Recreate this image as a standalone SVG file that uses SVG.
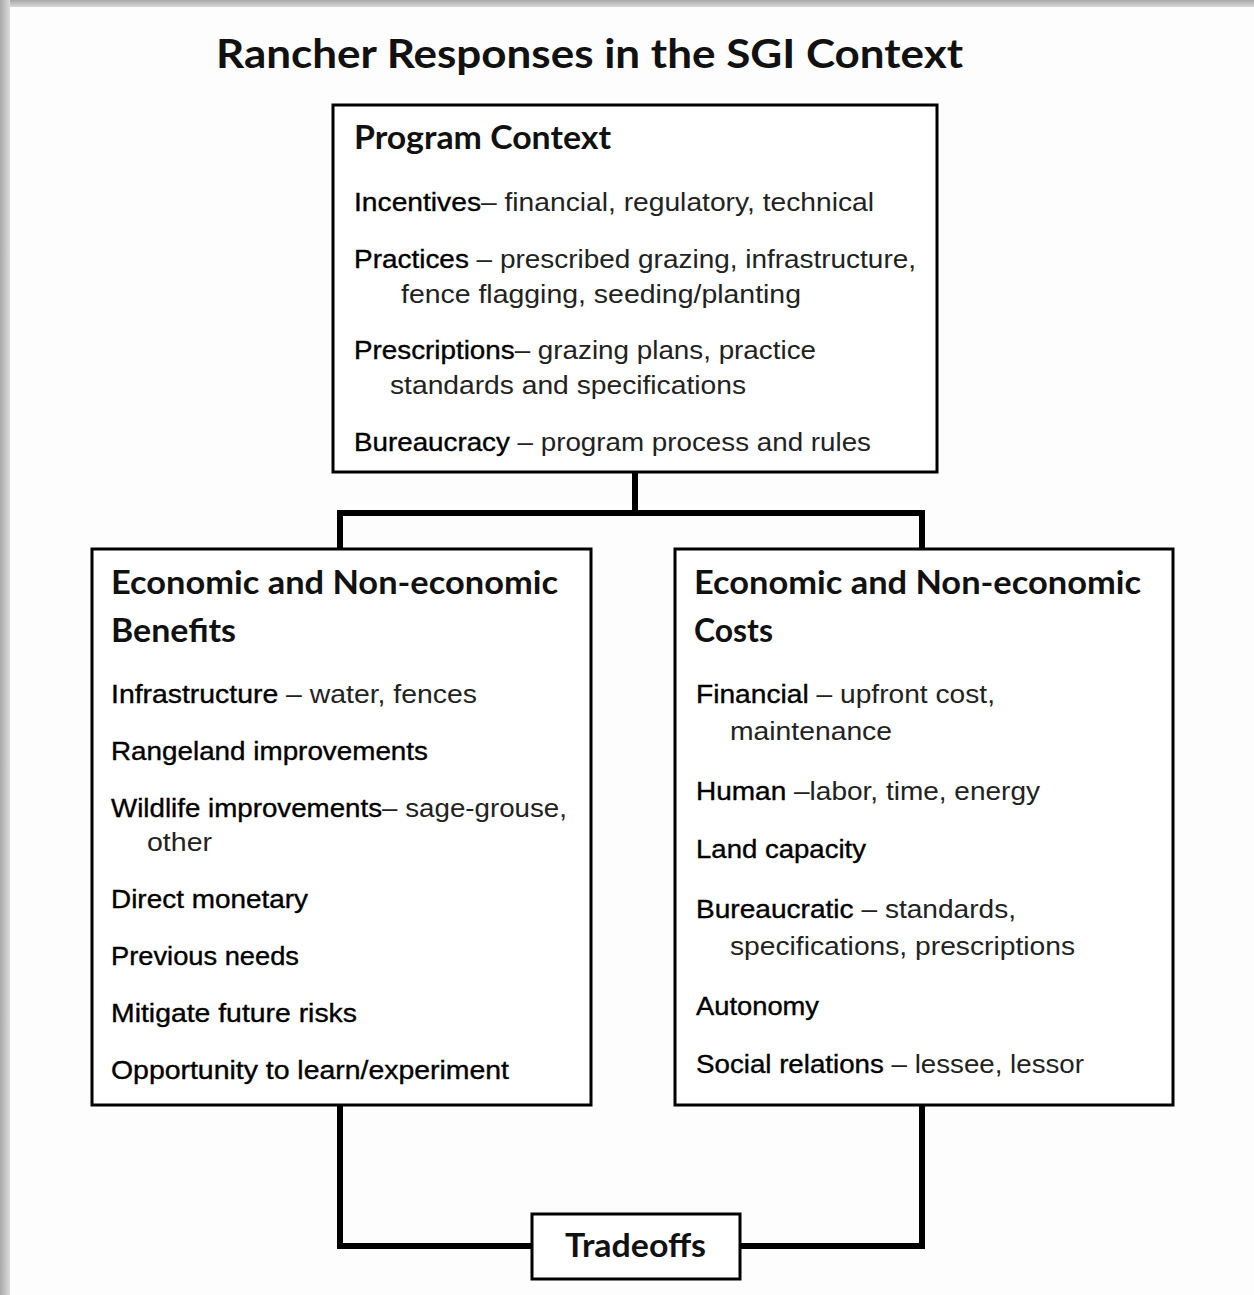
<svg xmlns="http://www.w3.org/2000/svg" width="1254" height="1295" viewBox="0 0 1254 1295">
<defs>
<linearGradient id="gTop" x1="0" y1="0" x2="0" y2="1">
<stop offset="0" stop-color="#a8a8a8"/><stop offset="1" stop-color="#d8d8d8"/>
</linearGradient>
<linearGradient id="gLeft" x1="0" y1="0" x2="1" y2="0">
<stop offset="0" stop-color="#a8a8a8"/><stop offset="1" stop-color="#dcdcdc"/>
</linearGradient>
<style>
.box{fill:#fff;stroke:#000;stroke-width:3}
.conn{fill:none;stroke:#000;stroke-width:6;stroke-linejoin:miter;stroke-linecap:square}
.head{font-family:Lato,"Open Sans","Liberation Sans",sans-serif;font-weight:700;fill:#111}
.body{font-family:"Liberation Sans",Arial,sans-serif;font-size:25px;fill:#222}
.lab{fill:#000;stroke:#000;stroke-width:0.35}
</style>
</defs>
<rect x="0" y="0" width="1254" height="1295" fill="#fdfdfd"/>
<rect x="0" y="0" width="1254" height="7" fill="url(#gTop)"/>
<rect x="0" y="0" width="10" height="1295" fill="url(#gLeft)"/>

<text id="title" class="head" x="216" y="68" font-size="40" textLength="747" lengthAdjust="spacingAndGlyphs">Rancher Responses in the SGI Context</text>

<g id="connectors">
<path class="conn" d="M635,472 V513 M340,513 H922 M340,513 V549 M922,513 V549"/>
<path class="conn" d="M340,1105 V1246 H532"/>
<path class="conn" d="M922,1105 V1246 H740"/>
</g>

<g id="program-context">
<rect class="box" x="333" y="105" width="604" height="367"/>
<text class="head" x="354" y="149" font-size="32" textLength="257" lengthAdjust="spacingAndGlyphs">Program Context</text>
<text class="body" x="354" y="211" textLength="520" lengthAdjust="spacingAndGlyphs"><tspan class="lab">Incentives</tspan>– financial, regulatory, technical</text>
<text class="body" x="354" y="268" textLength="562" lengthAdjust="spacingAndGlyphs"><tspan class="lab">Practices</tspan> – prescribed grazing, infrastructure,</text>
<text class="body" x="401" y="303" textLength="400" lengthAdjust="spacingAndGlyphs">fence flagging, seeding/planting</text>
<text class="body" x="354" y="359" textLength="462" lengthAdjust="spacingAndGlyphs"><tspan class="lab">Prescriptions</tspan>– grazing plans, practice</text>
<text class="body" x="390" y="394" textLength="356" lengthAdjust="spacingAndGlyphs">standards and specifications</text>
<text class="body" x="354" y="451" textLength="517" lengthAdjust="spacingAndGlyphs"><tspan class="lab">Bureaucracy</tspan> – program process and rules</text>
</g>

<g id="benefits">
<rect class="box" x="92" y="549" width="499" height="556"/>
<text class="head" x="111" y="594" font-size="33" textLength="447" lengthAdjust="spacingAndGlyphs">Economic and Non-economic</text>
<text class="head" x="111" y="642" font-size="33" textLength="125" lengthAdjust="spacingAndGlyphs">Benefits</text>
<text class="body" x="111" y="703" textLength="366" lengthAdjust="spacingAndGlyphs"><tspan class="lab">Infrastructure</tspan> – water, fences</text>
<text class="body lab" x="111" y="760" textLength="317" lengthAdjust="spacingAndGlyphs">Rangeland improvements</text>
<text class="body" x="111" y="817" textLength="456" lengthAdjust="spacingAndGlyphs"><tspan class="lab">Wildlife improvements</tspan>– sage-grouse,</text>
<text class="body" x="147" y="851" textLength="65" lengthAdjust="spacingAndGlyphs">other</text>
<text class="body lab" x="111" y="908" textLength="197" lengthAdjust="spacingAndGlyphs">Direct monetary</text>
<text class="body lab" x="111" y="965" textLength="188" lengthAdjust="spacingAndGlyphs">Previous needs</text>
<text class="body lab" x="111" y="1022" textLength="246" lengthAdjust="spacingAndGlyphs">Mitigate future risks</text>
<text class="body lab" x="111" y="1079" textLength="398" lengthAdjust="spacingAndGlyphs">Opportunity to learn/experiment</text>
</g>

<g id="costs">
<rect class="box" x="675" y="549" width="498" height="556"/>
<text class="head" x="694" y="594" font-size="33" textLength="447" lengthAdjust="spacingAndGlyphs">Economic and Non-economic</text>
<text class="head" x="694" y="642" font-size="33" textLength="79" lengthAdjust="spacingAndGlyphs">Costs</text>
<text class="body" x="696" y="703" textLength="299" lengthAdjust="spacingAndGlyphs"><tspan class="lab">Financial</tspan> – upfront cost,</text>
<text class="body" x="730" y="740" textLength="162" lengthAdjust="spacingAndGlyphs">maintenance</text>
<text class="body" x="696" y="800" textLength="344" lengthAdjust="spacingAndGlyphs"><tspan class="lab">Human</tspan> –labor, time, energy</text>
<text class="body lab" x="696" y="858" textLength="170" lengthAdjust="spacingAndGlyphs">Land capacity</text>
<text class="body" x="696" y="918" textLength="320" lengthAdjust="spacingAndGlyphs"><tspan class="lab">Bureaucratic</tspan> – standards,</text>
<text class="body" x="730" y="955" textLength="345" lengthAdjust="spacingAndGlyphs">specifications, prescriptions</text>
<text class="body lab" x="696" y="1015" textLength="123" lengthAdjust="spacingAndGlyphs">Autonomy</text>
<text class="body" x="696" y="1073" textLength="388" lengthAdjust="spacingAndGlyphs"><tspan class="lab">Social relations</tspan> – lessee, lessor</text>
</g>

<g id="tradeoffs">
<rect class="box" x="532" y="1214" width="208" height="65"/>
<text class="head" x="565" y="1257" font-size="33" textLength="141" lengthAdjust="spacingAndGlyphs">Tradeoffs</text>
</g>
</svg>
